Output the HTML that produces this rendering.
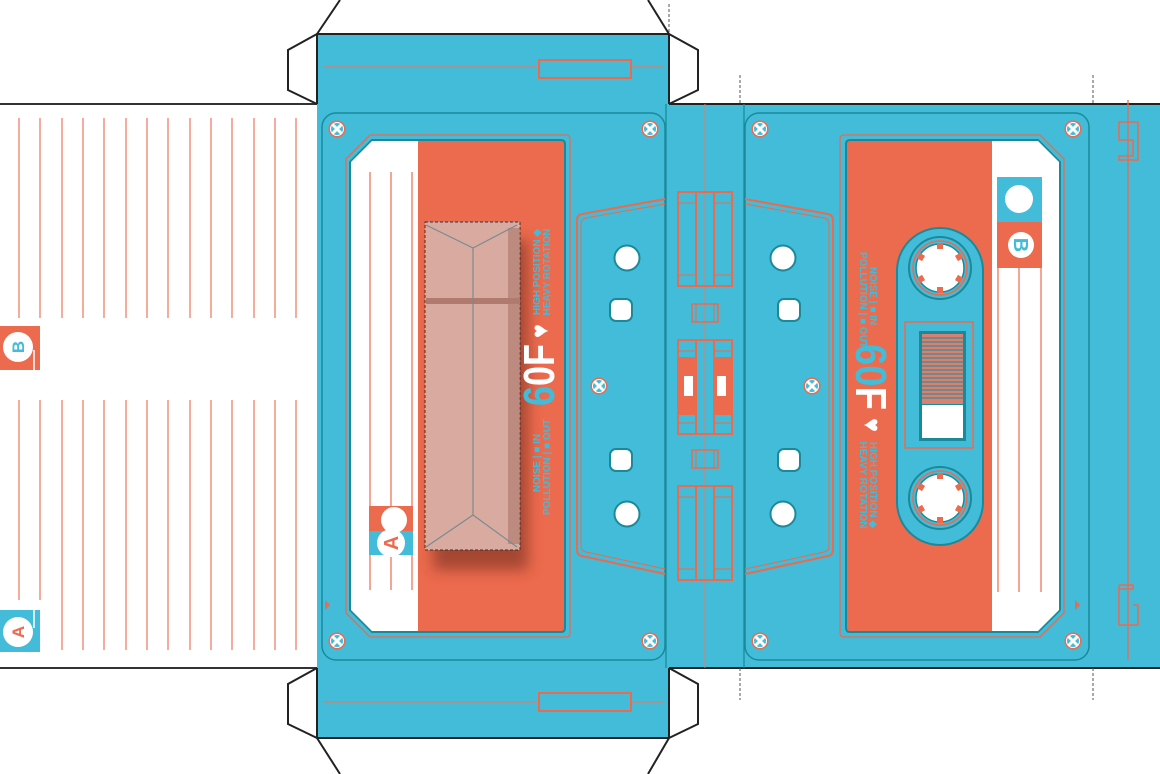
<!DOCTYPE html>
<html><head><meta charset="utf-8"><style>
html,body{margin:0;padding:0;background:#fff;width:1160px;height:774px;overflow:hidden}
svg{display:block}
text{font-family:"Liberation Sans",sans-serif;font-weight:bold}
</style></head><body>
<svg width="1160" height="774" viewBox="0 0 1160 774" xmlns="http://www.w3.org/2000/svg">
<defs>
<g id="screw"><circle r="8.5" fill="#ec6a4d"/><circle r="6.5" fill="#42bcd8" stroke="#fff" stroke-width="1"/><path d="M-3.5,-3.5L3.5,3.5M3.5,-3.5L-3.5,3.5" stroke="#fff" stroke-width="3" stroke-linecap="round"/></g>
<g id="hole"><circle r="12.5" fill="#fff" stroke="#1a8a9a" stroke-width="2"/></g>
<g id="sq"><rect x="-11" y="-11" width="22" height="22" rx="6" fill="#fff" stroke="#1a8a9a" stroke-width="2"/></g>
<g id="reel"><circle r="31" fill="#42bcd8" stroke="#1a8a9a" stroke-width="2"/><circle r="27" fill="none" stroke="#ec6a4d" stroke-width="1.5"/><circle r="24" fill="#fff" stroke="#1a8a9a" stroke-width="1.5"/>
<g fill="#ec6a4d"><rect x="-3" y="-25" width="6" height="6"/><rect x="-3" y="19" width="6" height="6"/><rect x="19" y="-3" width="6" height="6" transform="rotate(30)"/><rect x="-25" y="-3" width="6" height="6" transform="rotate(30)"/><rect x="19" y="-3" width="6" height="6" transform="rotate(-30)"/><rect x="-25" y="-3" width="6" height="6" transform="rotate(-30)"/></g></g>
<g id="comp"><rect x="0" y="0" width="54" height="94" fill="none" stroke="#ec6a4d" stroke-width="2"/><line x1="18" y1="0" x2="18" y2="94" stroke="#ec6a4d" stroke-width="2"/><line x1="36" y1="0" x2="36" y2="94" stroke="#ec6a4d" stroke-width="2"/><line x1="0" y1="11" x2="18" y2="11" stroke="#ec6a4d"/><line x1="36" y1="11" x2="54" y2="11" stroke="#ec6a4d"/><line x1="0" y1="83" x2="18" y2="83" stroke="#ec6a4d"/><line x1="36" y1="83" x2="54" y2="83" stroke="#ec6a4d"/></g>
<filter id="sh" x="-30%" y="-10%" width="160%" height="130%"><feGaussianBlur stdDeviation="7"/></filter>
</defs>

<!-- left white panel -->
<line x1="0" y1="104" x2="317" y2="104" stroke="#333" stroke-width="2"/>
<line x1="0" y1="668" x2="317" y2="668" stroke="#333" stroke-width="2"/>
<g stroke="#ec6a4d" stroke-width="1.3" opacity="0.85">
<path d="M19 118V318M40 118V318M62 118V318M83 118V318M104 118V318M126 118V318M147 118V318M168 118V318M190 118V318M211 118V318M232 118V318M254 118V318M275 118V318M296 118V318"/>
<path d="M19 400V600M40 400V600M62 400V650M83 400V650M104 400V650M126 400V650M147 400V650M168 400V650M190 400V650M211 400V650M232 400V650M254 400V650M275 400V650M296 400V650"/>
</g>
<rect x="0" y="326" width="40" height="44" fill="#ec6a4d"/>
<line x1="34" y1="350" x2="34" y2="370" stroke="#fff" stroke-width="1.5"/>
<circle cx="18" cy="347" r="15" fill="#fff"/><text font-size="17" fill="#42bcd8" transform="translate(18,347) rotate(-90)" text-anchor="middle" dy="6">B</text>
<rect x="0" y="610" width="40" height="42" fill="#42bcd8"/>
<line x1="34" y1="610" x2="34" y2="628" stroke="#fff" stroke-width="1.5"/>
<circle cx="18" cy="632" r="15" fill="#fff"/><text font-size="17" fill="#ec6a4d" transform="translate(18,632) rotate(-90)" text-anchor="middle" dy="6">A</text>

<!-- flaps outlines -->
<path d="M317 34L340 0M669 34L648 0M317 738L340 774M669 738L648 774" stroke="#222" stroke-width="2" fill="none"/>
<path d="M317 34L288 50V90L317 104M669 34L698 50V90L669 104M317 668L288 684V724L317 738M669 668L698 684V724L669 738" stroke="#222" stroke-width="2" fill="#fff"/>

<!-- blue body -->
<rect x="317" y="104" width="843" height="564" fill="#42bcd8"/>
<rect x="317" y="34" width="352" height="70" fill="#42bcd8"/>
<rect x="317" y="668" width="352" height="70" fill="#42bcd8"/>
<path d="M317 34H669M317 738H669M317 34V104M669 34V104M317 668V738M669 668V738M669 104H1160M669 668H1160" stroke="#222" stroke-width="2" fill="none"/>
<line x1="323" y1="67" x2="663" y2="67" stroke="#d98070" stroke-width="1.3"/>
<rect x="539" y="60" width="92" height="18" fill="#42bcd8" stroke="#ec6a4d" stroke-width="2"/>
<line x1="323" y1="702" x2="663" y2="702" stroke="#d98070" stroke-width="1.3"/>
<rect x="539" y="693" width="92" height="18" fill="#42bcd8" stroke="#ec6a4d" stroke-width="2"/>
<g stroke="#555" stroke-width="1" stroke-dasharray="3,2">
<path d="M669 4V34M740 75V104M740 668V700M1093 75V104M1093 668V700"/></g>

<!-- middle strip -->
<line x1="666" y1="104" x2="666" y2="668" stroke="#1a8a9a" stroke-width="1.3"/>
<line x1="744" y1="104" x2="744" y2="668" stroke="#1a8a9a" stroke-width="1.3"/>
<line x1="705" y1="104" x2="705" y2="668" stroke="#d98070" stroke-width="1"/>

<!-- left cassette -->
<rect x="322" y="113" width="343" height="547" rx="14" fill="#42bcd8" stroke="#1a8a9a" stroke-width="1.5"/>
<path d="M665 199L582 214Q577 215 577 220V550Q577 555 582 556L665 574" fill="none" stroke="#ec6a4d" stroke-width="2"/>
<path d="M665 204L586 218Q581 219 581 224V546Q581 551 586 552L665 569" fill="none" stroke="#ec6a4d" stroke-width="1"/>
<path d="M370 135H566Q570 135 570 139V633Q570 637 566 637H370L346 613V159Z" fill="none" stroke="#ec6a4d" stroke-width="1.3"/>
<path d="M372 140H561Q565 140 565 144V628Q565 632 561 632H372L350 610V162Z" fill="#ec6a4d" stroke="#1a8a9a" stroke-width="2"/>
<path d="M372 141H418V631H372L351 610V162Z" fill="#fff"/>
<path d="M370 172V590M391 172V590M412 172V590" stroke="#ec6a4d" stroke-width="1.2"/>
<rect x="369" y="506" width="44" height="25" fill="#ec6a4d"/><rect x="369" y="531" width="44" height="24" fill="#42bcd8"/>
<circle cx="394" cy="520" r="13" fill="#fff"/><circle cx="391" cy="543" r="14" fill="#fff"/>
<text font-size="20" fill="#ec6a4d" transform="translate(391,543) rotate(-90)" text-anchor="middle" dy="7">A</text>
<path d="M330 605L325 600V610Z" fill="#ec6a4d"/>
<!-- usb -->
<rect x="433" y="240" width="95" height="330" fill="#6a2a1e" opacity="0.55" filter="url(#sh)"/>
<rect x="425" y="222" width="95" height="328" fill="#d9aba0" stroke="#333" stroke-width="1" stroke-dasharray="3,2"/>
<rect x="508" y="228" width="12" height="316" fill="#a87468" opacity="0.6"/>
<rect x="426" y="298" width="94" height="6" fill="#b07a6e"/>
<path d="M426 225L473 248L517 225M473 248V515M426 547L473 515L517 547" stroke="#7a8a90" stroke-width="1.2" fill="none"/>
<text font-size="10" fill="#42bcd8" transform="translate(540,272) rotate(-90)" text-anchor="middle">HIGH POSITION ◆</text>
<text font-size="10" fill="#42bcd8" transform="translate(550,272) rotate(-90)" text-anchor="middle">HEAVY ROTATION</text>
<text font-size="44" fill="#42bcd8" transform="translate(554,375) rotate(-90)" textLength="62" lengthAdjust="spacingAndGlyphs" text-anchor="middle">6<tspan fill="#fff">0F</tspan></text>
<text font-size="24" fill="#fff" transform="translate(548,331) rotate(-90)" text-anchor="middle">♥</text>
<text font-size="10" fill="#42bcd8" transform="translate(540,463) rotate(-90)" text-anchor="middle">NOISE | ■ IN</text>
<text font-size="10" fill="#42bcd8" transform="translate(550,467) rotate(-90)" text-anchor="middle">POLLUTION | ■ OUT</text>
<use href="#screw" x="337" y="129"/><use href="#screw" x="650" y="129"/><use href="#screw" x="337" y="641"/><use href="#screw" x="650" y="641"/><use href="#screw" x="599" y="386"/>
<use href="#hole" x="627" y="258"/><use href="#hole" x="627" y="514"/><use href="#sq" x="621" y="310"/><use href="#sq" x="621" y="460"/>

<!-- right cassette -->
<rect x="745" y="113" width="344" height="547" rx="14" fill="#42bcd8" stroke="#1a8a9a" stroke-width="1.5"/>
<path d="M745 199L828 214Q833 215 833 220V550Q833 555 828 556L745 574" fill="none" stroke="#ec6a4d" stroke-width="2"/>
<path d="M745 204L824 218Q829 219 829 224V546Q829 551 824 552L745 569" fill="none" stroke="#ec6a4d" stroke-width="1"/>
<path d="M844 135H1040L1064 159V613L1040 637H844Q840 637 840 633V139Q840 135 844 135Z" fill="none" stroke="#ec6a4d" stroke-width="1.3"/>
<path d="M850 140H1038L1060 162V610L1038 632H850Q846 632 846 628V144Q846 140 850 140Z" fill="#ec6a4d" stroke="#1a8a9a" stroke-width="2"/>
<path d="M992 141H1038L1059 162V610L1038 631H992Z" fill="#fff"/>
<path d="M998 268V592M1019 268V592M1041 268V592" stroke="#ec6a4d" stroke-width="1.2"/>
<rect x="997" y="177" width="45" height="45" fill="#42bcd8"/><rect x="997" y="222" width="45" height="46" fill="#ec6a4d"/>
<circle cx="1019" cy="199" r="14" fill="#fff"/><circle cx="1021" cy="245" r="13" fill="#fff"/>
<text font-size="20" fill="#42bcd8" transform="translate(1021,245) rotate(90)" text-anchor="middle" dy="7">B</text>
<path d="M1080 605L1075 600V610Z" fill="#ec6a4d"/>
<rect x="897" y="228" width="86" height="317" rx="43" fill="#42bcd8" stroke="#1a8a9a" stroke-width="2"/>
<use href="#reel" x="940" y="268"/><use href="#reel" x="940" y="498"/>
<rect x="905" y="322" width="68" height="126" fill="none" stroke="#ec6a4d" stroke-width="1.5"/>
<rect x="919" y="331" width="47" height="110" fill="#1a8a9a"/>
<rect x="922" y="334" width="41" height="70" fill="#d98070"/>
<g stroke="#1a8a9a" stroke-width="1"><path d="M922 338H963M922 342H963M922 346H963M922 350H963M922 354H963M922 358H963M922 362H963M922 366H963M922 370H963M922 374H963M922 378H963M922 382H963M922 386H963M922 390H963M922 394H963M922 398H963"/></g>
<rect x="922" y="405" width="41" height="33" fill="#fff"/>
<text font-size="10" fill="#42bcd8" transform="translate(870,296) rotate(90)" text-anchor="middle">NOISE | ■ IN</text>
<text font-size="10" fill="#42bcd8" transform="translate(860,300) rotate(90)" text-anchor="middle">POLLUTION | ■ OUT</text>
<text font-size="44" fill="#fff" transform="translate(856,377) rotate(90)" textLength="66" lengthAdjust="spacingAndGlyphs" text-anchor="middle"><tspan fill="#42bcd8">60</tspan>F</text>
<text font-size="24" fill="#fff" transform="translate(864,425) rotate(90)" text-anchor="middle">♥</text>
<text font-size="10" fill="#42bcd8" transform="translate(870,485) rotate(90)" text-anchor="middle">HIGH POSITION ◆</text>
<text font-size="10" fill="#42bcd8" transform="translate(860,485) rotate(90)" text-anchor="middle">HEAVY ROTATION</text>
<use href="#screw" x="760" y="129"/><use href="#screw" x="1073" y="129"/><use href="#screw" x="760" y="641"/><use href="#screw" x="1073" y="641"/><use href="#screw" x="812" y="386"/>
<use href="#hole" x="783" y="258"/><use href="#hole" x="783" y="514"/><use href="#sq" x="789" y="310"/><use href="#sq" x="789" y="460"/>

<!-- strip components -->
<use href="#comp" x="678" y="192"/>
<rect x="678" y="357" width="18" height="58" fill="#ec6a4d"/><rect x="714" y="357" width="18" height="58" fill="#ec6a4d"/>
<rect x="684" y="376" width="9" height="20" fill="#fff"/><rect x="717" y="376" width="9" height="20" fill="#fff"/>
<use href="#comp" x="678" y="340"/>
<use href="#comp" x="678" y="486"/>
<rect x="692" y="304" width="26" height="18" fill="none" stroke="#ec6a4d" stroke-width="1.5"/><line x1="696" y1="304" x2="696" y2="322" stroke="#ec6a4d"/><line x1="714" y1="304" x2="714" y2="322" stroke="#ec6a4d"/>
<rect x="692" y="450" width="26" height="18" fill="none" stroke="#ec6a4d" stroke-width="1.5"/><line x1="696" y1="450" x2="696" y2="468" stroke="#ec6a4d"/><line x1="714" y1="450" x2="714" y2="468" stroke="#ec6a4d"/>

<!-- right edge -->
<line x1="1128" y1="100" x2="1128" y2="660" stroke="#ec6a4d" stroke-width="1.3"/>
<path d="M1119 122H1138V160H1119V156H1133V140H1119Z" fill="none" stroke="#ec6a4d" stroke-width="1.5"/>
<path d="M1119 585H1133V589H1119V585M1119 589V625H1138V605H1133" fill="none" stroke="#ec6a4d" stroke-width="1.5"/>
</svg>
</body></html>
